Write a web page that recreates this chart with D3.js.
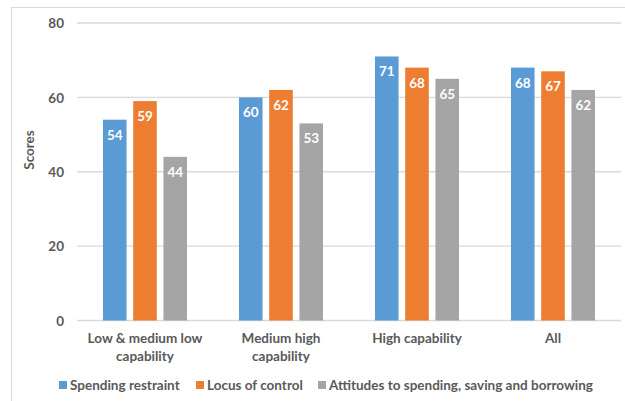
<!DOCTYPE html>
<html><head><meta charset="utf-8">
<script src="https://cdn.jsdelivr.net/npm/d3@7"></script>
<style>body{margin:0;background:#fff}svg{display:block}text{font-family:Lato,"Open Sans",sans-serif;font-weight:bold}</style>
</head><body>
<script>
const categories = [["Low & medium low","capability"],["Medium high","capability"],["High capability"],["All"]];
const seriesNames = ["Spending restraint","Locus of control","Attitudes to spending, saving and borrowing"];
const spendingRestraint = [54,60,71,68];
const locusOfControl = [59,62,68,67];
const attitudes = [44,53,65,62];
const yTicks = [0,20,40,60,80];
const colors = ["#5B9BD5","#ED7D31","#A5A5A5"];
const series = [spendingRestraint, locusOfControl, attitudes];

const W=625,H=401,FS=13.5;
const svg=d3.select("body").append("svg").attr("width",W).attr("height",H);
svg.append("rect").attr("x",11.5).attr("y",7.5).attr("width",700).attr("height",500).attr("fill","none").attr("stroke","#d9d9d9");

const x0=d3.scaleBand().domain(d3.range(categories.length)).range([77,621]).paddingInner(0.382).paddingOuter(0.191);
const x1=d3.scaleBand().domain(d3.range(3)).range([0,x0.bandwidth()]).paddingInner(0.22);
const y=d3.scaleLinear().domain([0,80]).range([320.5,23]);

const g=svg.append("g");
g.selectAll("line.grid").data(yTicks).join("line").attr("x1",77).attr("x2",621)
 .attr("y1",d=>y(d)).attr("y2",d=>y(d)).attr("stroke","#d9d9d9").attr("stroke-width",1.3);

const yAxis=d3.axisLeft(y).tickValues(yTicks).tickSize(0).tickPadding(0);
const ya=svg.append("g").attr("transform","translate(64,0)").call(yAxis);
ya.select(".domain").remove();
ya.selectAll("text").attr("font-size",FS).attr("fill","#595959").attr("dy","0.35em").style("font-family","Lato, sans-serif");

svg.append("text").attr("transform","translate(34,150) rotate(-90)").attr("text-anchor","middle")
 .attr("font-size",FS).attr("fill","#595959").text("Scores");

series.forEach((vals,si)=>{
  const gs=svg.append("g");
  gs.selectAll("rect").data(vals).join("rect")
    .attr("x",(d,i)=>x0(i)+x1(si)).attr("width",x1.bandwidth())
    .attr("y",d=>y(d)).attr("height",d=>y(0)-y(d)).attr("fill",colors[si]);
  gs.selectAll("text").data(vals).join("text")
    .attr("x",(d,i)=>x0(i)+x1(si)+x1.bandwidth()/2).attr("y",d=>y(d)+20)
    .attr("text-anchor","middle").attr("font-size",FS).attr("fill","#fff").text(d=>d);
});

const xa=svg.append("g");
categories.forEach((lines,i)=>{
  const t=xa.append("text").attr("text-anchor","middle").attr("font-size",FS).attr("fill","#595959");
  lines.forEach((l,k)=>t.append("tspan").attr("x",x0(i)+x0.bandwidth()/2).attr("y",343+k*17.5).text(l));
});

const legendX=[59,196,318];
const lg=svg.append("g");
seriesNames.forEach((n,i)=>{
  lg.append("rect").attr("x",legendX[i]).attr("y",381).attr("width",8).attr("height",8).attr("fill",colors[i]);
  lg.append("text").attr("x",legendX[i]+11).attr("y",389.5).attr("font-size",FS).attr("fill","#595959").text(n);
});
</script>
</body></html>
